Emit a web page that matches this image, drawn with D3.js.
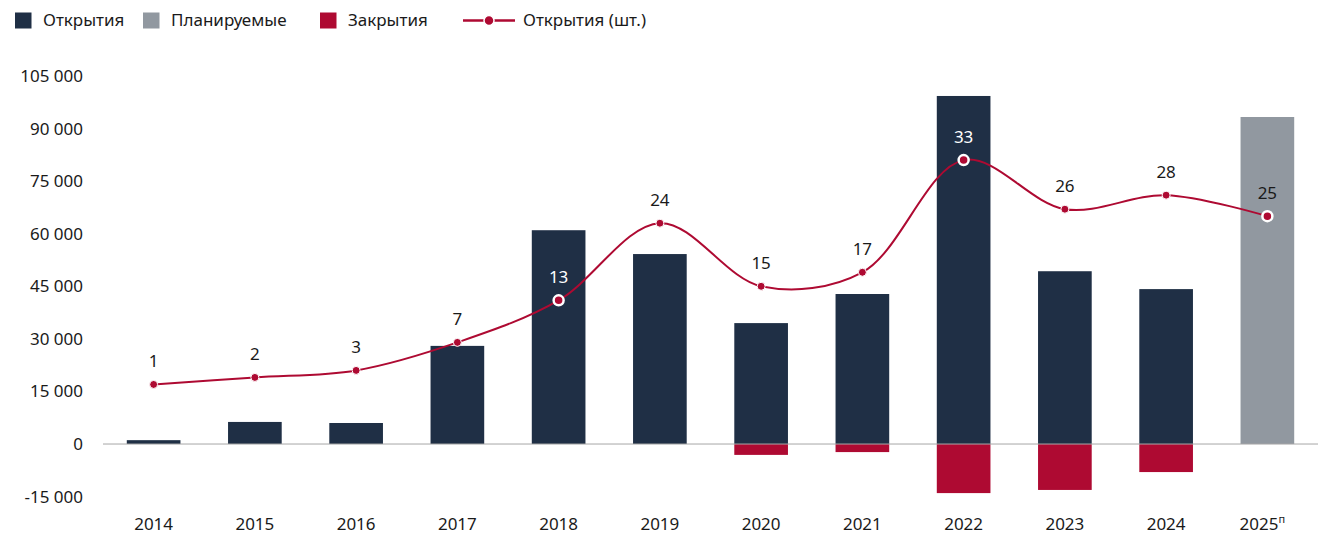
<!DOCTYPE html>
<html>
<head>
<meta charset="utf-8">
<script src="https://cdn.jsdelivr.net/npm/d3@7"></script>
<style>
  body { margin: 0; background: #fff; }
  text { font-family: "Noto Sans", "Open Sans", sans-serif; }
</style>
</head>
<body>
<div id="chart"></div>
<script>
// data
var years = [ '2014', '2015', '2016', '2017', '2018', '2019', '2020', '2021', '2022', '2023', '2024', '2025' ];
var openings = [ 1100, 6300, 6000, 28000, 61000, 54200, 34500, 42800, 99300, 49300, 44200, 0 ];
var planned = [ 0, 0, 0, 0, 0, 0, 0, 0, 0, 0, 0, 93300 ];
var closings = [ 0, 0, 0, 0, 0, 0, -3100, -2300, -14000, -13100, -8000, 0 ];
var counts = [ 1, 2, 3, 7, 13, 24, 15, 17, 33, 26, 28, 25 ];
var yTicks = [ -15000, 0, 15000, 30000, 45000, 60000, 75000, 90000, 105000 ];

var colors = {
    open: '#1f2f45',
    plan: '#9198a0',
    close: '#ae0a32',
    line: '#ae0a32',
    text: '#1a1a1a'
};

var width = 1320;
var height = 534;
var fontSize = 17;

var svg = d3.select( '#chart' )
            .append( 'svg' )
            .attr( 'width', width )
            .attr( 'height', height );

var x = d3.scaleBand()
          .domain( years )
          .range( [ 103, 1318 ] )
          .paddingInner( 0.47 )
          .paddingOuter( 0.235 );

var y = d3.scaleLinear()
          .domain( [ -15000, 105000 ] )
          .range( [ 496.6, 76 ] );

// hidden axis for counts: 0 sits at 15 000, 45 at 105 000
var y2 = d3.scaleLinear()
           .domain( [ 0, 45 ] )
           .range( [ y( 15000 ), y( 105000 ) ] );

// y axis labels
var yAxis = d3.axisLeft( y )
              .tickValues( yTicks )
              .tickSize( 0 )
              .tickPadding( 0 )
              .tickFormat( function( d ) {
                  return d3.format( ',' )( d ).replace( /,/g, ' ' ).replace( '−', '-' );
              });

var gy = svg.append( 'g' )
            .attr( 'transform', 'translate(83,0)' )
            .call( yAxis );
gy.select( '.domain' ).remove();
gy.selectAll( 'text' )
  .attr( 'font-size', fontSize )
  .attr( 'fill', colors.text );

// bars
function drawBars( values, color ) {
    svg.append( 'g' )
       .selectAll( 'rect' )
       .data( values.map( function( v, i ) { return { year: years[ i ], value: v }; } )
                    .filter( function( d ) { return d.value != 0; } ) )
       .enter()
       .append( 'rect' )
       .attr( 'x', function( d ) { return x( d.year ); } )
       .attr( 'width', x.bandwidth() )
       .attr( 'y', function( d ) { return Math.min( y( d.value ), y( 0 ) ); } )
       .attr( 'height', function( d ) { return Math.abs( y( d.value ) - y( 0 ) ); } )
       .attr( 'fill', color );
}
drawBars( openings, colors.open );
drawBars( planned, colors.plan );
drawBars( closings, colors.close );

// zero line
svg.append( 'line' )
   .attr( 'x1', 103 )
   .attr( 'x2', 1318 )
   .attr( 'y1', y( 0 ) )
   .attr( 'y2', y( 0 ) )
   .attr( 'stroke', '#a6a6a6' )
   .attr( 'stroke-width', 1 );

// x axis labels
var xAxis = d3.axisBottom( x ).tickSize( 0 ).tickPadding( 0 );
var gx = svg.append( 'g' )
            .attr( 'transform', 'translate(0,524)' )
            .call( xAxis );
gx.select( '.domain' ).remove();
gx.selectAll( 'text' )
  .attr( 'font-size', fontSize )
  .attr( 'fill', colors.text )
  .attr( 'dy', '0.35em' );
gx.selectAll( '.tick' )
  .filter( function( d ) { return d == '2025'; } )
  .select( 'text' )
  .attr( 'dx', '-0.3em' )
  .append( 'tspan' )
  .attr( 'font-size', 11 )
  .attr( 'dy', '-0.6em' )
  .text( 'п' );

// line
var points = counts.map( function( c, i ) {
    return { year: years[ i ], count: c, px: x( years[ i ] ) + x.bandwidth() / 2, py: y2( c ) };
});

var line = d3.line()
             .x( function( d ) { return d.px; } )
             .y( function( d ) { return d.py; } )
             .curve( d3.curveCatmullRom.alpha( 0.5 ) );

svg.append( 'path' )
   .datum( points )
   .attr( 'd', line )
   .attr( 'fill', 'none' )
   .attr( 'stroke', colors.line )
   .attr( 'stroke-width', 2 );

function onBar( d ) {
    return d.year == '2018' || d.year == '2022' || d.year == '2025';
}

svg.append( 'g' )
   .selectAll( 'circle' )
   .data( points )
   .enter()
   .append( 'circle' )
   .attr( 'cx', function( d ) { return d.px; } )
   .attr( 'cy', function( d ) { return d.py; } )
   .attr( 'r', function( d ) { return onBar( d ) ? 5 : 4; } )
   .attr( 'fill', colors.line )
   .attr( 'stroke', 'white' )
   .attr( 'stroke-width', function( d ) { return onBar( d ) ? 2.5 : 1; } );

svg.append( 'g' )
   .selectAll( 'text' )
   .data( points )
   .enter()
   .append( 'text' )
   .attr( 'x', function( d ) { return d.px; } )
   .attr( 'y', function( d ) { return d.py - 17; } )
   .attr( 'text-anchor', 'middle' )
   .attr( 'font-size', fontSize )
   .attr( 'fill', function( d ) { return ( d.year == '2018' || d.year == '2022' ) ? 'white' : colors.text; } )
   .text( function( d ) { return d.count; } );

// legend
var legend = svg.append( 'g' ).attr( 'transform', 'translate(0,20.5)' );
var swatches = [
    { label: 'Открытия', color: colors.open, x: 15 },
    { label: 'Планируемые', color: colors.plan, x: 143 },
    { label: 'Закрытия', color: colors.close, x: 320 }
];
swatches.forEach( function( s ) {
    legend.append( 'rect' )
          .attr( 'x', s.x )
          .attr( 'y', -8 )
          .attr( 'width', 16.5 )
          .attr( 'height', 16 )
          .attr( 'fill', s.color );
    legend.append( 'text' )
          .attr( 'x', s.x + 28 )
          .attr( 'y', 0 )
          .attr( 'dy', '0.35em' )
          .attr( 'font-size', fontSize )
          .attr( 'fill', colors.text )
          .text( s.label );
});
legend.append( 'line' )
      .attr( 'x1', 463 )
      .attr( 'x2', 515 )
      .attr( 'y1', 0 )
      .attr( 'y2', 0 )
      .attr( 'stroke', colors.line )
      .attr( 'stroke-width', 2.5 );
legend.append( 'circle' )
      .attr( 'cx', 489 )
      .attr( 'cy', 0 )
      .attr( 'r', 5 )
      .attr( 'fill', colors.line )
      .attr( 'stroke', 'white' )
      .attr( 'stroke-width', 1.5 );
legend.append( 'text' )
      .attr( 'x', 523 )
      .attr( 'y', 0 )
      .attr( 'dy', '0.35em' )
      .attr( 'font-size', fontSize )
      .attr( 'fill', colors.text )
      .text( 'Открытия (шт.)' );
</script>
</body>
</html>
